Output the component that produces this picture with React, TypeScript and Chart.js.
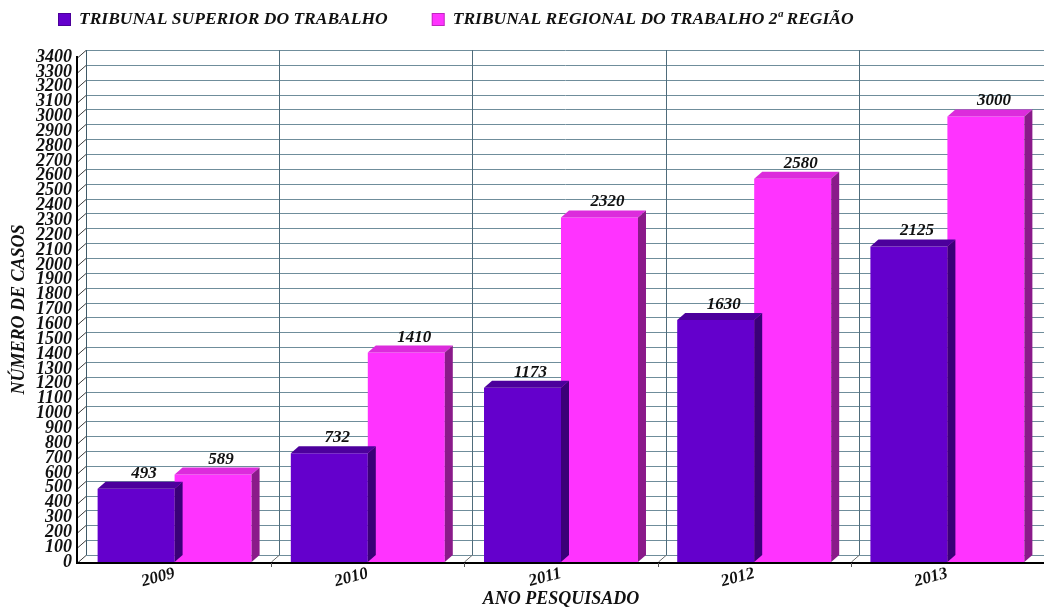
import React, { useEffect, useRef } from "react";
import { Chart, registerables } from "chart.js";

Chart.register(...registerables);

const categories = ["2009", "2010", "2011", "2012", "2013"];
const seriesNames = [
  "TRIBUNAL SUPERIOR DO TRABALHO",
  "TRIBUNAL REGIONAL DO TRABALHO 2ª REGIÃO",
];
const tstValues = [493, 732, 1173, 1630, 2125];
const trtValues = [589, 1410, 2320, 2580, 3000];
const yMin = 0;
const yMax = 3400;
const yStep = 100;
const yTitle = "NÚMERO DE CASOS";
const xTitle = "ANO PESQUISADO";

const FONT = "'Liberation Serif', 'Times New Roman', serif";
const DX = 8;
const DY = -7;
const frontColors = ["#6400cc", "#ff33ff"];
const topColors = ["#4c009c", "#dc2cdc"];
const sideColors = ["#3a0078", "#8a1a8a"];

const wallPlugin = {
  id: "wall",
  beforeDatasetsDraw(chart: any) {
    const { ctx, chartArea: a, scales } = chart;
    const x = scales.x;
    const y = scales.y;
    ctx.save();
    ctx.lineWidth = 1;
    // horizontal grid on back wall + diagonal ticks
    y.ticks.forEach((t: any) => {
      const py = Math.round(y.getPixelForValue(t.value)) + 0.5;
      ctx.strokeStyle = "#6f8d9b";
      ctx.beginPath();
      ctx.moveTo(a.left + DX, py + DY);
      ctx.lineTo(a.right + DX + 20, py + DY);
      ctx.stroke();
      ctx.strokeStyle = "#3a3a3a";
      ctx.beginPath();
      ctx.moveTo(a.left, py);
      ctx.lineTo(a.left + DX, py + DY);
      ctx.stroke();
    });
    const topY = Math.round(y.getPixelForValue(yMax)) + DY;
    const botY = Math.round(y.getPixelForValue(yMin));
    // back wall left edge
    ctx.strokeStyle = "#3f5a68";
    ctx.beginPath();
    ctx.moveTo(a.left + DX + 0.5, topY);
    ctx.lineTo(a.left + DX + 0.5, botY + DY);
    ctx.stroke();
    // category separators on back wall and floor
    for (let i = 1; i < categories.length; i++) {
      const bx = Math.round(x.getPixelForValue(i - 0.5)) + 0.5;
      ctx.strokeStyle = "#4f6c7b";
      ctx.beginPath();
      ctx.moveTo(bx + DX, topY);
      ctx.lineTo(bx + DX, botY + DY);
      ctx.stroke();
      ctx.strokeStyle = "#6d6d6d";
      ctx.beginPath();
      ctx.moveTo(bx, botY);
      ctx.lineTo(bx + DX, botY + DY);
      ctx.stroke();
    }
    ctx.restore();
  },
  afterDatasetDraw(chart: any, args: any) {
    const { ctx } = chart;
    const i = args.index;
    ctx.save();
    args.meta.data.forEach((el: any) => {
      const { x, y, width, base } = el.getProps(["x", "y", "width", "base"], true);
      const l = x - width / 2;
      const r = x + width / 2;
      ctx.fillStyle = topColors[i];
      ctx.beginPath();
      ctx.moveTo(l, y);
      ctx.lineTo(l + DX, y + DY);
      ctx.lineTo(r + DX, y + DY);
      ctx.lineTo(r, y);
      ctx.closePath();
      ctx.fill();
      ctx.fillStyle = sideColors[i];
      ctx.beginPath();
      ctx.moveTo(r, y);
      ctx.lineTo(r + DX, y + DY);
      ctx.lineTo(r + DX, base + DY);
      ctx.lineTo(r, base);
      ctx.closePath();
      ctx.fill();
    });
    ctx.restore();
  },
  afterDatasetsDraw(chart: any) {
    const { ctx, chartArea: a, scales } = chart;
    const x = scales.x;
    ctx.save();
    // data labels
    ctx.font = `italic bold 17px ${FONT}`;
    ctx.fillStyle = "#111";
    ctx.textAlign = "center";
    ctx.textBaseline = "alphabetic";
    chart.data.datasets.forEach((ds: any, di: number) => {
      const meta = chart.getDatasetMeta(di);
      meta.data.forEach((el: any, j: number) => {
        const { x: px, y } = el.getProps(["x", "y"], true);
        ctx.fillText(String(ds.data[j]), px + DX, y + DY - 4);
      });
    });
    // front axes
    ctx.strokeStyle = "#000";
    ctx.lineWidth = 2;
    ctx.beginPath();
    ctx.moveTo(a.left - 1, a.top - 1);
    ctx.lineTo(a.left - 1, a.bottom + 1);
    ctx.lineTo(a.right + 10, a.bottom + 1);
    ctx.stroke();
    // small ticks below baseline at category boundaries
    ctx.lineWidth = 1;
    ctx.strokeStyle = "#555";
    for (let i = 1; i < categories.length; i++) {
      const bx = Math.round(x.getPixelForValue(i - 0.5)) + 0.5;
      ctx.beginPath();
      ctx.moveTo(bx, a.bottom + 1);
      ctx.lineTo(bx, a.bottom + 5);
      ctx.stroke();
    }
    ctx.restore();
  },
  afterDraw(chart: any) {
    const { ctx } = chart;
    ctx.save();
    ctx.font = `italic bold 17.5px ${FONT}`;
    ctx.textBaseline = "middle";
    ctx.textAlign = "left";
    let cx = 58;
    const cy = 19.5;
    chart.data.datasets.forEach((ds: any) => {
      ctx.fillStyle = ds.backgroundColor;
      ctx.fillRect(cx, cy - 6.5, 13, 13);
      ctx.strokeStyle = "rgba(0,0,0,0.25)";
      ctx.lineWidth = 1;
      ctx.strokeRect(cx + 0.5, cy - 6, 12, 12);
      ctx.fillStyle = "#111";
      ctx.fillText(ds.label, cx + 21, cy);
      cx += 21 + ctx.measureText(ds.label).width + 44;
    });
    ctx.restore();
  },
};

export default function App() {
  const ref = useRef<HTMLCanvasElement | null>(null);
  useEffect(() => {
    document.body.style.margin = "0";
    document.body.style.overflow = "hidden";
    const canvas = ref.current;
    if (!canvas) return;
    const titleFont = { family: FONT, size: 18, style: "italic" as const, weight: "bold" as const, lineHeight: 1 };
    const chart = new Chart(canvas, {
      type: "bar",
      data: {
        labels: categories,
        datasets: [
          { label: seriesNames[0], data: tstValues, backgroundColor: frontColors[0], borderWidth: 0 },
          { label: seriesNames[1], data: trtValues, backgroundColor: frontColors[1], borderWidth: 0 },
        ],
      },
      options: {
        responsive: false,
        animation: false,
        devicePixelRatio: 1,
        layout: { padding: { top: 57, right: 0, left: 0, bottom: 0 } },
        datasets: { bar: { barPercentage: 1, categoryPercentage: 0.797 } },
        plugins: {
          legend: { display: false },
          tooltip: { enabled: false },
        },
        scales: {
          x: {
            grid: { display: false, drawTicks: false },
            border: { display: false },
            ticks: {
              color: "#111",
              font: { family: FONT, size: 17, style: "italic", weight: "bold", lineHeight: 1 },
              minRotation: 15,
              maxRotation: 15,
              padding: 3,
            },
            title: {
              display: true,
              text: xTitle,
              color: "#111",
              font: titleFont,
              padding: { top: 0, bottom: -1 },
            },
            afterFit: (s: any) => {
              s.height = 45;
            },
          },
          y: {
            min: yMin,
            max: yMax,
            grid: { display: false, drawTicks: false },
            border: { display: false },
            ticks: {
              stepSize: yStep,
              autoSkip: false,
              color: "#111",
              font: { family: FONT, size: 18, style: "italic", weight: "bold", lineHeight: 1 },
              padding: 6,
              callback: (v: any) => String(v),
            },
            title: {
              display: true,
              text: yTitle,
              color: "#111",
              font: titleFont,
              padding: { top: 10, bottom: 0 },
            },
            afterFit: (s: any) => {
              s.width = 78;
            },
          },
        },
      },
      plugins: [wallPlugin],
    });
    return () => chart.destroy();
  }, []);
  return (
    <div style={{ width: 1044, height: 607 }}>
      <canvas ref={ref} width={1044} height={607} style={{ display: "block" }} />
    </div>
  );
}
